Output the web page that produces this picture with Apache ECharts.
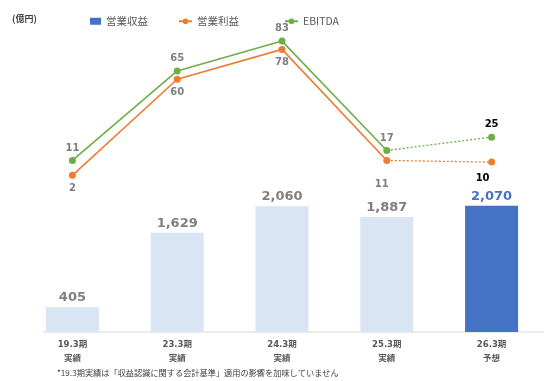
<!DOCTYPE html>
<html>
<head>
<meta charset="utf-8">
<script src="https://cdn.jsdelivr.net/npm/echarts@6/dist/echarts.min.js"></script>
<style>
  html, body { margin: 0; padding: 0; background: #fff; }
  #chart { width: 544px; height: 381px; }
</style>
</head>
<body>
<div id="chart"></div>
<script>
// Fiscal periods and whether the figure is actual or forecast
const categories = ['19.3期', '23.3期', '24.3期', '25.3期', '26.3期'];
const periodTypes = ['実績', '実績', '実績', '実績', '予想'];

// Values in 100 million yen
const revenue = [405, 1629, 2060, 1887, 2070];          // 営業収益
const operatingProfit = [2, 60, 78, 11, 10];            // 営業利益
const ebitda = [11, 65, 83, 17, 25];                    // EBITDA

const forecastIndex = 4;
const footnote = '*19.3期実績は「収益認識に関する会計基準」適用の影響を加味していません';

const BLUE = '#4472C4';
const LIGHT_BLUE = '#DAE5F3';
const ORANGE = '#ED7D31';
const GREEN = '#70AD47';
const GRAY = '#7F7F7F';
const NUM_FONT = '"DejaVu Sans", "Noto Sans CJK JP", sans-serif';
const JP_FONT = '"Noto Sans CJK JP", "DejaVu Sans", sans-serif';

const chart = echarts.init(document.getElementById('chart'), null, { renderer: 'canvas' });

// Bars: actual years light blue, forecast year solid blue
const barData = revenue.map((v, i) => {
  const isForecast = i === forecastIndex;
  return {
    value: v,
    itemStyle: { color: isForecast ? BLUE : LIGHT_BLUE },
    label: { color: isForecast ? BLUE : GRAY }
  };
});

// Solid line runs through the actual periods, dotted segment to the forecast
function solidPart(values) {
  return values.map((v, i) => (i < forecastIndex ? v : '-'));
}
function forecastPart(values) {
  return values.map((v, i) => (i >= forecastIndex - 1 ? v : '-'));
}

const lineLabelBase = {
  show: true,
  fontFamily: NUM_FONT,
  fontSize: 10,
  fontWeight: 'bold',
  color: GRAY
};

function lineSeries(name, values, color, labelPos, labelDist, extraOffsets) {
  const solid = solidPart(values).map((v, i) => {
    if (v === '-') return v;
    const item = { value: v };
    if (extraOffsets[i]) item.label = { offset: extraOffsets[i] };
    return item;
  });
  const dotted = forecastPart(values).map((v, i) => {
    if (v === '-') return v;
    const item = { value: v };
    if (i === forecastIndex) {
      item.label = { show: true, color: '#000', offset: extraOffsets[i] || [0, 0] };
    } else {
      item.label = { show: false };
      item.symbol = 'none';
    }
    return item;
  });
  const common = {
    type: 'line',
    yAxisIndex: 1,
    symbol: 'circle',
    symbolSize: 7,
    itemStyle: { color: color },
    z: 3
  };
  return [
    Object.assign({}, common, {
      name: name,
      data: solid,
      lineStyle: { color: color, width: 1.6 },
      label: Object.assign({}, lineLabelBase, { position: labelPos, distance: labelDist })
    }),
    Object.assign({}, common, {
      name: name + '（予想）',
      data: dotted,
      lineStyle: { color: color, width: 1.3, type: [2, 2] },
      label: Object.assign({}, lineLabelBase, { position: labelPos, distance: labelDist, show: false })
    })
  ];
}

const legendText = { fontFamily: JP_FONT, fontSize: 10.5, color: '#595959' };

const option = {
  backgroundColor: '#fff',
  animation: false,
  title: [
    {
      text: '(億円)',
      left: 7,
      top: 9,
      textStyle: { fontFamily: JP_FONT, fontSize: 9, fontWeight: 'bold', color: '#404040' }
    },
    {
      text: footnote,
      left: 52,
      top: 364,
      textStyle: { fontFamily: JP_FONT, fontSize: 8.2, fontWeight: 'normal', color: '#404040' }
    }
  ],
  legend: [
    {
      data: [{ name: '営業収益', icon: 'rect', itemStyle: { color: BLUE } }],
      left: 85, top: 11, itemWidth: 11, itemHeight: 7,
      textStyle: legendText
    },
    {
      data: ['営業利益'],
      left: 173, top: 11, itemWidth: 13, itemHeight: 7,
      textStyle: legendText
    },
    {
      data: ['EBITDA'],
      left: 279, top: 11, itemWidth: 13, itemHeight: 7,
      textStyle: legendText
    }
  ],
  grid: { left: 20, right: -7, top: 27, bottom: 49 },
  xAxis: {
    type: 'category',
    data: categories,
    axisLine: { show: false },
    axisTick: { show: false },
    axisLabel: {
      margin: 6,
      interval: 0,
      fontFamily: NUM_FONT,
      fontSize: 8.5,
      fontWeight: 'bold',
      lineHeight: 14,
      color: '#595959',
      formatter: (val, idx) => val + '\n' + periodTypes[idx]
    }
  },
  yAxis: [
    { type: 'value', min: 0, max: 5000, show: false, splitLine: { show: false } },
    { type: 'value', min: -92.5, max: 91.5, show: false, splitLine: { show: false } }
  ],
  series: [
    {
      name: '営業収益',
      type: 'bar',
      yAxisIndex: 0,
      barWidth: 53,
      data: barData,
      itemStyle: { color: LIGHT_BLUE },
      label: {
        show: true,
        position: 'top',
        distance: 3,
        fontFamily: NUM_FONT,
        fontSize: 13,
        fontWeight: 'bold',
        formatter: p => p.value.toLocaleString('en-US')
      },
      z: 2
    },
    ...lineSeries('営業利益', operatingProfit, ORANGE, 'bottom', 5, { 3: [-5, 10], 4: [-9, 3] }),
    ...lineSeries('EBITDA', ebitda, GREEN, 'top', 4, {})
  ]
};

chart.setOption(option);

// Category baseline, drawn from the bar axis zero
const baseY = chart.convertToPixel({ yAxisIndex: 0 }, 0);
chart.setOption({
  graphic: [{
    type: 'line',
    shape: { x1: 43, y1: baseY, x2: 544, y2: baseY },
    style: { stroke: '#D9D9D9', lineWidth: 1 },
    z: 1
  }]
});
</script>
</body>
</html>
